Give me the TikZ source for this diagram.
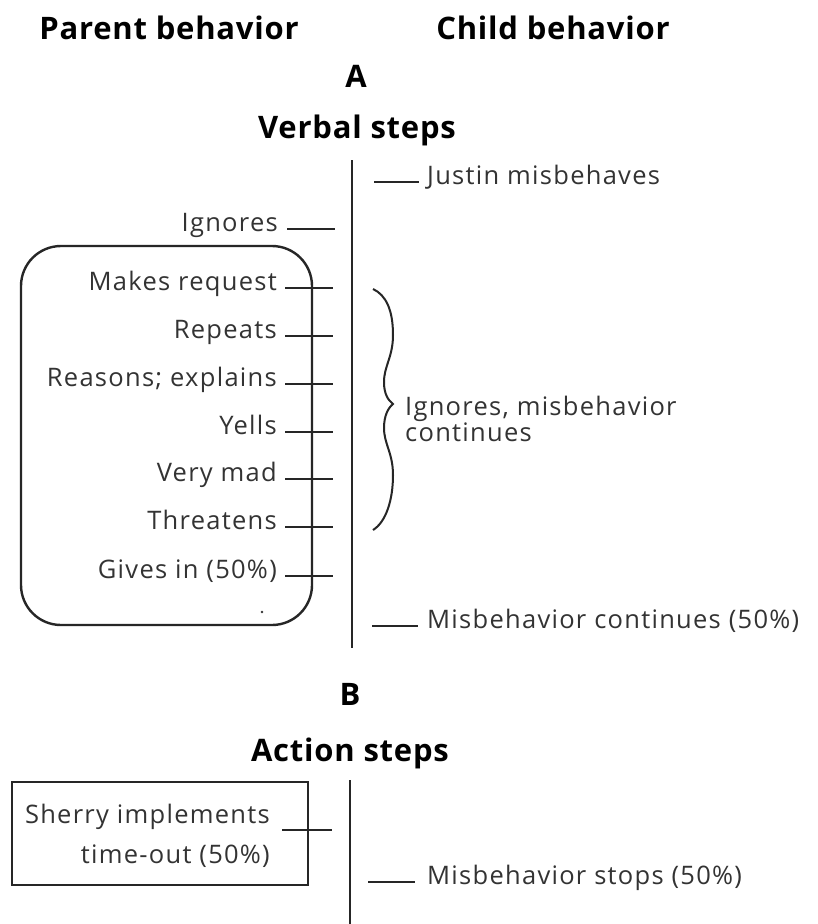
\documentclass[tikz,border=0pt]{standalone}
\usepackage{fontspec}
\setmainfont{Open Sans}
\newfontfamily\bodyfont{Open Sans}[LetterSpace=5]
\newfontfamily\headfont{Open Sans}[LetterSpace=2.5]
\definecolor{ink}{gray}{0.2}
\begin{document}
\begin{tikzpicture}[x=1pt,y=-1pt,
  head/.style={font=\headfont\fontsize{31}{32}\selectfont\bfseries, text=black, inner sep=0pt, anchor=base},
  lbl/.style={font=\bodyfont\fontsize{25.5}{23}\selectfont, text=ink, inner sep=0pt},
  rl/.style={lbl, anchor=mid east},
  ll/.style={lbl, anchor=mid west},
  axis/.style={line width=2.2pt, black!85},
  tick/.style={line width=2.2pt, black!85},
  frame/.style={line width=2.4pt, black!85}]
\useasboundingbox (0,0) rectangle (817,924);
\fill[white] (0,0) rectangle (817,924);

% headings
\node[head] (parent) at (169,39) {Parent behavior};
\node[head] (child) at (553,39) {Child behavior};
\node[head] (A) at (356,87) {A};
\node[head] (verbal) at (357,138) {Verbal steps};

% axis A
\coordinate (atop) at (352,160);
\coordinate (abot) at (352,648);
\draw[axis] (atop) -- (abot);

% child side A
\node[ll] (justin) at (427,182) {Justin misbehaves};
\coordinate (j0) at (374,182);
\draw[tick] (j0) -- ([xshift=-8pt]justin.mid west);

% parent: ignores
\node[rl] (ign) at (278,229) {Ignores};
\coordinate (ign1) at (335,229);
\draw[tick] ([xshift=9pt]ign.mid east) -- (ign1);

% rounded box
\draw[frame, rounded corners=40pt] (21,246) rectangle (312,625);
\fill[ink] (262,612) circle (1.3pt);

% parent steps
\foreach \n/\t/\y in {mr/Makes request/288, rp/Repeats/336, re/{Reasons; explains}/384,
  ye/Yells/432, vm/Very mad/479, th/Threatens/527, gi/Gives in (50\%)/576}{
  \node[rl] (\n) at (277,\y) {\t};
  \coordinate (\n e) at (333,\y);
  \draw[tick] ([xshift=8pt]\n.mid east) -- (\n e);
}

% brace
\coordinate (bt) at (373,289);
\coordinate (bb) at (373,530);
\draw[line width=2pt, black!85] (bt)
  .. controls (386,295) and (393,310) .. (393,335)
  .. controls (393,357) and (384,366) .. (384,382)
  .. controls (384,394) and (388,400) .. (393,404)
  .. controls (388,408) and (384,416) .. (384,428)
  .. controls (384,444) and (393,453) .. (393,475)
  .. controls (393,500) and (386,522) .. (bb);
\node[lbl, anchor=west, align=left, font=\bodyfont\fontsize{25.5}{22}\selectfont] (ignc) at (405,419) {Ignores, misbehavior\\continues};

% misbehavior continues
\node[ll] (mc) at (427,626) {Misbehavior continues (50\%)};
\coordinate (mc0) at (372,626);
\draw[tick] (mc0) -- ([xshift=-9pt]mc.mid west);

% section B
\node[head] (B) at (350,705) {B};
\node[head] (action) at (350,761) {Action steps};
\node[draw, line width=2.8pt, black!85, minimum width=296pt, minimum height=103pt, inner sep=0pt] (sbox) at (160,833.5) {};
\node[lbl, anchor=east, align=right, font=\bodyfont\fontsize{25.5}{40}\selectfont] (sherry) at (270,836) {Sherry implements\\time-out (50\%)};
\coordinate (s0) at (282,830);
\coordinate (s1) at (332,830);
\draw[tick] (s0) -- (s1);

\coordinate (btop) at (350,780);
\coordinate (bbot) at (350,924);
\draw[axis] (btop) -- (bbot);

\node[ll] (ms) at (427,882) {Misbehavior stops (50\%)};
\coordinate (ms0) at (368,882);
\draw[tick] (ms0) -- ([xshift=-12pt]ms.mid west);
\end{tikzpicture}
\end{document}
